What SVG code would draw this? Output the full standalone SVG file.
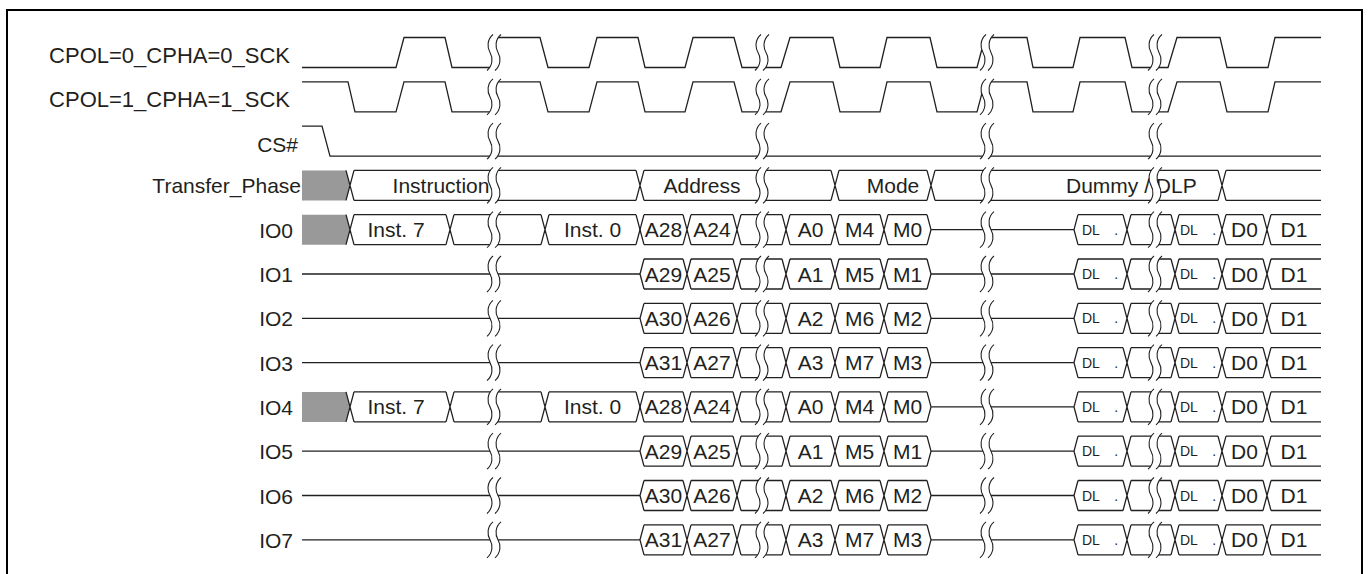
<svg xmlns="http://www.w3.org/2000/svg" xmlns:xlink="http://www.w3.org/1999/xlink" width="1369" height="574" viewBox="0 0 1369 574">
<style>
.sig{fill:none;stroke:#231f20;stroke-width:1.3;stroke-linejoin:miter}
.bk{fill:none;stroke:#231f20;stroke-width:1.1}
.t{font-family:"Liberation Sans",Arial,sans-serif;font-size:21px;fill:#231f20}
.big{font-size:22px}
.m{text-anchor:middle}
.e{text-anchor:end}
.dl{font-family:"Liberation Sans",Arial,sans-serif;font-size:14px;fill:#231f20;word-spacing:11px}
.gray{fill:#999;stroke:none}
</style>
<defs>
<g id="brk">
<path d="M3,-18C-3,-13 -3,-5 0,0C3,5 3,13 -3,18L5,18C11,13 11,5 8,0C5,-5 5,-13 11,-18Z" fill="#fff"/>
<path class="bk" d="M3,-18C-3,-13 -3,-5 0,0C3,5 3,13 -3,18M11,-18C5,-13 5,-5 8,0C11,5 11,13 5,18"/>
</g>
<g id="brk4">
<use xlink:href="#brk" x="490"/><use xlink:href="#brk" x="758"/><use xlink:href="#brk" x="983"/><use xlink:href="#brk" x="1151"/>
</g>
<path id="ioCommon" class="sig" d="M644,-15L640,0L644,15M683,-15L691,15M683,15L691,-15M733,-15L741,15M733,15L741,-15M782,-15L790,15M782,15L790,-15M831,-15L839,15M831,15L839,-15M880,-15L888,15M880,15L888,-15M644,-15H683M691,-15H733M741,-15H782M790,-15H831M839,-15H880M888,-15H927M644,15H683M691,15H733M741,15H782M790,15H831M839,15H880M888,15H927M927,-15L931,0L927,15M931,0H1074M1078,-15L1074,0L1078,15M1123,-15L1131,15M1123,15L1131,-15M1171,-15L1179,15M1171,15L1179,-15M1218,-15L1226,15M1218,15L1226,-15M1263,-15L1271,15M1263,15L1271,-15M1078,-15H1123M1131,-15H1171M1179,-15H1218M1226,-15H1263M1271,-15H1321M1078,15H1123M1131,15H1171M1179,15H1218M1226,15H1263M1271,15H1321"/>
<g id="ioInst">
<path class="gray" d="M302,-15H346L350,0L346,15H302Z"/>
<path class="sig" d="M346,-15L354,15M346,15L354,-15M446,-15L454,15M446,15L454,-15M541,-15L549,15M541,15L549,-15M636,-15L640,0L636,15M354,-15H446M454,-15H541M549,-15H636M354,15H446M454,15H541M549,15H636"/>
</g>
<path id="ioIdle" class="sig" d="M302,0H640"/>
<g id="dataTail">
<text class="dl" x="1082" y="5">DL .</text>
<text class="dl" x="1180" y="5">DL .</text>
<text class="t m" x="1244.5" y="7.5">D0</text>
<text class="t m" x="1294" y="7.5">D1</text>
</g>
</defs>

<rect x="7" y="10" width="1355" height="600" fill="none" stroke="#000" stroke-width="2"/>

<g id="cpol0" transform="translate(0,52.5)">
<text class="t big e" x="290" y="10.5">CPOL=0_CPHA=0_SCK</text>
<path class="sig" d="M302,15H396L404,-15H445L452,15H494V-15H540L548,15H589L597,-15H638L645,15H685L693,-15H734L742,15H781L790,-15H833L840,15H880L887,-15H930L937,15H977L985,-15H1027L1033,15H1073L1080,-15H1125L1132,15H1168L1177,-15H1220L1227,15H1268L1275,-15H1321"/>
<use xlink:href="#brk4"/>
</g>

<g id="cpol1" transform="translate(0,96.8)">
<text class="t big e" x="290" y="10.5">CPOL=1_CPHA=1_SCK</text>
<path class="sig" d="M302,-15H348L355,15H396L404,-15H445L452,15H494V-15H540L548,15H589L597,-15H638L645,15H685L693,-15H734L742,15H781L790,-15H833L840,15H880L887,-15H930L937,15H977L985,-15H1027L1033,15H1073L1080,-15H1125L1132,15H1168L1177,-15H1220L1227,15H1268L1275,-15H1321"/>
<use xlink:href="#brk4"/>
</g>

<g id="cs" transform="translate(0,141.1)">
<text class="t e" x="298" y="10.5">CS#</text>
<path class="sig" d="M302,-15H322L330,15H1321"/>
<use xlink:href="#brk4"/>
</g>

<g id="phase" transform="translate(0,185.4)">
<text class="t e" x="301" y="8">Transfer_Phase</text>
<path class="gray" d="M302,-15H346L350,0L346,15H302Z"/>
<path class="sig" d="M346,-15L354,15M346,15L354,-15M636,-15L644,15M636,15L644,-15M831,-15L839,15M831,15L839,-15M927,-15L935,15M927,15L935,-15M1218,-15L1226,15M1218,15L1226,-15M354,-15H636M644,-15H831M839,-15H927M935,-15H1218M1226,-15H1321M354,15H636M644,15H831M839,15H927M935,15H1218M1226,15H1321"/>
<text class="t m" x="441" y="7.5">Instruction</text>
<text class="t m" x="702" y="7.5">Address</text>
<text class="t m" x="893" y="7.5">Mode</text>
<text class="t" x="1066" y="7.5">Dummy / DLP</text>
<use xlink:href="#brk4"/>
</g>

<g id="io0" transform="translate(0,229.7)">
<text class="t e" x="293" y="8">IO0</text>
<use xlink:href="#ioInst"/><use xlink:href="#ioCommon"/>
<text class="t m" x="396" y="7.5">Inst. 7</text>
<text class="t m" x="592.5" y="7.5">Inst. 0</text>
<text class="t m" x="663.5" y="7.5">A28</text>
<text class="t m" x="712" y="7.5">A24</text>
<text class="t m" x="810.5" y="7.5">A0</text>
<text class="t m" x="859.5" y="7.5">M4</text>
<text class="t m" x="907.5" y="7.5">M0</text>
<use xlink:href="#dataTail"/>
<use xlink:href="#brk4"/>
</g>

<g id="io1" transform="translate(0,274)">
<text class="t e" x="293" y="8">IO1</text>
<use xlink:href="#ioIdle"/><use xlink:href="#ioCommon"/>
<text class="t m" x="663.5" y="7.5">A29</text>
<text class="t m" x="712" y="7.5">A25</text>
<text class="t m" x="810.5" y="7.5">A1</text>
<text class="t m" x="859.5" y="7.5">M5</text>
<text class="t m" x="907.5" y="7.5">M1</text>
<use xlink:href="#dataTail"/>
<use xlink:href="#brk4"/>
</g>

<g id="io2" transform="translate(0,318.3)">
<text class="t e" x="293" y="8">IO2</text>
<use xlink:href="#ioIdle"/><use xlink:href="#ioCommon"/>
<text class="t m" x="663.5" y="7.5">A30</text>
<text class="t m" x="712" y="7.5">A26</text>
<text class="t m" x="810.5" y="7.5">A2</text>
<text class="t m" x="859.5" y="7.5">M6</text>
<text class="t m" x="907.5" y="7.5">M2</text>
<use xlink:href="#dataTail"/>
<use xlink:href="#brk4"/>
</g>

<g id="io3" transform="translate(0,362.6)">
<text class="t e" x="293" y="8">IO3</text>
<use xlink:href="#ioIdle"/><use xlink:href="#ioCommon"/>
<text class="t m" x="663.5" y="7.5">A31</text>
<text class="t m" x="712" y="7.5">A27</text>
<text class="t m" x="810.5" y="7.5">A3</text>
<text class="t m" x="859.5" y="7.5">M7</text>
<text class="t m" x="907.5" y="7.5">M3</text>
<use xlink:href="#dataTail"/>
<use xlink:href="#brk4"/>
</g>

<g id="io4" transform="translate(0,406.9)">
<text class="t e" x="293" y="8">IO4</text>
<use xlink:href="#ioInst"/><use xlink:href="#ioCommon"/>
<text class="t m" x="396" y="7.5">Inst. 7</text>
<text class="t m" x="592.5" y="7.5">Inst. 0</text>
<text class="t m" x="663.5" y="7.5">A28</text>
<text class="t m" x="712" y="7.5">A24</text>
<text class="t m" x="810.5" y="7.5">A0</text>
<text class="t m" x="859.5" y="7.5">M4</text>
<text class="t m" x="907.5" y="7.5">M0</text>
<use xlink:href="#dataTail"/>
<use xlink:href="#brk4"/>
</g>

<g id="io5" transform="translate(0,451.2)">
<text class="t e" x="293" y="8">IO5</text>
<use xlink:href="#ioIdle"/><use xlink:href="#ioCommon"/>
<text class="t m" x="663.5" y="7.5">A29</text>
<text class="t m" x="712" y="7.5">A25</text>
<text class="t m" x="810.5" y="7.5">A1</text>
<text class="t m" x="859.5" y="7.5">M5</text>
<text class="t m" x="907.5" y="7.5">M1</text>
<use xlink:href="#dataTail"/>
<use xlink:href="#brk4"/>
</g>

<g id="io6" transform="translate(0,495.5)">
<text class="t e" x="293" y="8">IO6</text>
<use xlink:href="#ioIdle"/><use xlink:href="#ioCommon"/>
<text class="t m" x="663.5" y="7.5">A30</text>
<text class="t m" x="712" y="7.5">A26</text>
<text class="t m" x="810.5" y="7.5">A2</text>
<text class="t m" x="859.5" y="7.5">M6</text>
<text class="t m" x="907.5" y="7.5">M2</text>
<use xlink:href="#dataTail"/>
<use xlink:href="#brk4"/>
</g>

<g id="io7" transform="translate(0,539.8)">
<text class="t e" x="293" y="8">IO7</text>
<use xlink:href="#ioIdle"/><use xlink:href="#ioCommon"/>
<text class="t m" x="663.5" y="7.5">A31</text>
<text class="t m" x="712" y="7.5">A27</text>
<text class="t m" x="810.5" y="7.5">A3</text>
<text class="t m" x="859.5" y="7.5">M7</text>
<text class="t m" x="907.5" y="7.5">M3</text>
<use xlink:href="#dataTail"/>
<use xlink:href="#brk4"/>
</g>
</svg>
